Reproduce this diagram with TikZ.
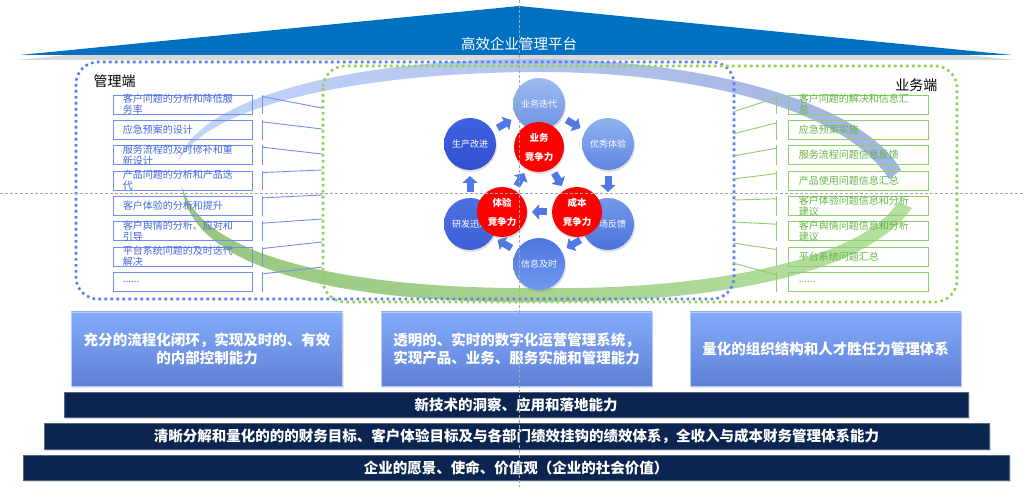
\documentclass[tikz,border=0pt]{standalone}
\usepackage{fontspec}
\setmainfont{Noto Sans CJK SC}
\usetikzlibrary{positioning, arrows.meta, shadows, calc}
\definecolor{roofblue}{HTML}{0070C0}
\definecolor{mgmtblue}{HTML}{5B7CF5}
\definecolor{bizgreen}{HTML}{92D050}
\definecolor{itemblue}{HTML}{7090F0}
\definecolor{itemtxtblue}{HTML}{4468DA}
\definecolor{itemgreen}{HTML}{8CD06A}
\definecolor{itemtxtgreen}{HTML}{62B545}
\definecolor{swooshblueA}{HTML}{BCD0FA}
\definecolor{swooshblueB}{HTML}{97ABDB}
\definecolor{swooshgreenA}{HTML}{8DC070}
\definecolor{swooshgreenB}{HTML}{AEDC96}
\definecolor{paneltop}{HTML}{84ACFA}
\definecolor{panelbot}{HTML}{5E80D6}
\definecolor{navybar}{HTML}{0B2550}
\definecolor{corered}{HTML}{FF0000}
\definecolor{chevblue}{HTML}{5079E6}
\definecolor{guidegray}{HTML}{A6A6A6}
\definecolor{ywddtop}{HTML}{9EBCF2}
\definecolor{ywddbot}{HTML}{6A91E4}
\definecolor{yxtytop}{HTML}{8FB2F0}
\definecolor{yxtybot}{HTML}{5F86E0}
\definecolor{scfktop}{HTML}{7399EA}
\definecolor{scfkbot}{HTML}{4D73DC}
\definecolor{xxjstop}{HTML}{4E76E2}
\definecolor{xxjsbot}{HTML}{6F97EE}
\definecolor{yfxstop}{HTML}{4D70E2}
\definecolor{yfxsbot}{HTML}{3E60D8}
\definecolor{scgjtop}{HTML}{3F62E2}
\definecolor{scgjbot}{HTML}{3051D0}
\newcommand{\etcdots}{......}

\begin{document}
\begin{tikzpicture}[x=1bp, y=-1bp,
    lbox/.style={draw=itemblue, line width=0.9bp, minimum width=139bp, minimum height=19bp, inner sep=0},
    rbox/.style={draw=itemgreen, line width=0.9bp, minimum width=140bp, minimum height=19bp, inner sep=0},
    itemtxt/.style={anchor=west, inner sep=0, align=left, font=\fontsize{10bp}{11bp}\selectfont},
    bracketl/.style={draw=itemblue, line width=0.9bp},
    bracketr/.style={draw=itemgreen, line width=0.9bp},
    ring/.style={circle, minimum size=52bp, inner sep=0, text=white, font=\fontsize{9bp}{10bp}\selectfont,
        drop shadow={opacity=0.25, shadow xshift=1bp, shadow yshift=-2bp}},
    core/.style={circle, minimum size=50bp, inner sep=0, fill=corered, text=white, align=center,
        font=\fontsize{9.5bp}{19bp}\selectfont\bfseries, drop shadow={opacity=0.25, shadow xshift=1bp, shadow yshift=-2bp}},
    chevline/.style={draw=chevblue, line width=7bp, -{Triangle[width=15bp, length=7bp]}},
    panel/.style={top color=paneltop, bottom color=panelbot, draw=paneltop!60!white, minimum width=271bp, minimum height=74bp,
        text=white, align=center, font=\fontsize{14.5bp}{18bp}\selectfont\bfseries,
        drop shadow={opacity=0.2, shadow xshift=1bp, shadow yshift=-2bp}},
    navy/.style={fill=navybar, draw=navybar!70!white, minimum height=25bp, inner sep=0, text=white,
        font=\fontsize{14.5bp}{16bp}\selectfont\bfseries, drop shadow={opacity=0.3, shadow xshift=1.5bp, shadow yshift=-2bp}},
    dotbox/.style={rounded corners=22bp, line width=2.6bp, dash pattern=on 2.6bp off 3.4bp},
    guide/.style={draw=guidegray, line width=0.6bp, dash pattern=on 3bp off 2bp}
  ]
  \useasboundingbox (0,0) rectangle (1024,487);

  % roof
  \fill[black, opacity=0.15] (519,10) -- (1016,60) -- (16,60) -- cycle;
  \fill[roofblue] (519,6) -- (1012,55) -- (20,55) -- cycle;
  \node[text=white, font=\fontsize{14.5bp}{16bp}\selectfont] (roof) at (519,44) {高效企业管理平台};

  % swooshes
  \shade[left color=swooshblueA, right color=swooshblueB, fill opacity=0.9]
    (178,162) .. controls (200,90) and (380,58) .. (540,59)
    .. controls (700,60) and (860,100) .. (901,170) -- (889,179)
    .. controls (845,110) and (700,72) .. (540,72)
    .. controls (380,72) and (210,100) .. (178,162) -- cycle;
  \shade[left color=swooshgreenA, right color=swooshgreenB, fill opacity=0.9]
    (182,186) .. controls (190,275) and (360,304) .. (545,302)
    .. controls (700,302) and (860,280) .. (912,208) -- (898,202)
    .. controls (860,262) and (700,290) .. (545,288)
    .. controls (390,290) and (205,268) .. (182,186) -- cycle;

  % dotted frames
  \draw[dotbox, draw=mgmtblue] (76,62) rectangle (734,299);
  \draw[dotbox, draw=bizgreen] (323,66) rectangle (957,302);
  \node[anchor=west, font=\fontsize{14bp}{16bp}\selectfont] (mgmt) at (90,81) {管理端};
  \node[anchor=east, font=\fontsize{14bp}{16bp}\selectfont] (biz) at (941,85) {业务端};

  % left items
  \foreach \i/\ey/\txt in {1/108/{客户问题的分析和降低服\\务率}, 2/129/{应急预案的设计}, 3/154/{服务流程的及时修补和重\\新设计},
      4/170/{产品问题的分析和产品迭\\代}, 5/195/{客户体验的分析和提升}, 6/219/{客户舆情的分析、应对和\\引导},
      7/242/{平台系统问题的及时迭代\\解决}, 8/267/{\etcdots}} {
    \node[lbox] (l\i) at (182.5,{104.5+25.33*(\i-1)}) {};
    \node[itemtxt, text=itemtxtblue] (lt\i) at ([xshift=10bp]l\i.west) {\txt};
    \coordinate (le\i) at (322,\ey);
    \draw[bracketl] ([xshift=10bp]l\i.north east) -- ([xshift=10bp]l\i.south east);
    \draw[bracketl] ([xshift=10bp, yshift=-2bp]l\i.north east) -- (le\i);
  }

  % right items
  \foreach \i/\ey/\txt in {1/112/{客户问题的解决和信息汇\\总}, 2/134/{应急预案实施}, 3/156/{服务流程问题信息反馈},
      4/179/{产品使用问题信息汇总}, 5/200/{客户体验问题信息和分析\\建议}, 6/222/{客户舆情问题信息和分析\\建议},
      7/243/{平台系统问题汇总}, 8/263/{\etcdots}} {
    \node[rbox] (r\i) at (858,{104.5+25.33*(\i-1)}) {};
    \node[itemtxt, text=itemtxtgreen] (rt\i) at ([xshift=11bp]r\i.west) {\txt};
    \coordinate (re\i) at (733,\ey);
    \draw[bracketr] ([xshift=-11bp]r\i.north west) -- ([xshift=-11bp]r\i.south west);
    \draw[bracketr] ([xshift=-11bp, yshift=-3bp]r\i.north west) -- (re\i);
  }

  % cycle
  \node[ring, top color=ywddtop, bottom color=ywddbot] (ywdd) at (539,104) {业务迭代};
  \node[ring, top color=yxtytop, bottom color=yxtybot] (yxty) at (608,144) {优秀体验};
  \node[ring, top color=scfktop, bottom color=scfkbot] (scfk) at (608,224) {市场反馈};
  \node[ring, top color=xxjstop, bottom color=xxjsbot] (xxjs) at (539,264) {信息及时};
  \node[ring, top color=yfxstop, bottom color=yfxsbot] (yfxs) at (470,224) {研发迅速};
  \node[ring, top color=scgjtop, bottom color=scgjbot] (scgj) at (470,144) {生产改进};
  \node[core] (ywjz) at (539,147) {业务\\竞争力};
  \node[core] (tyjz) at (502,212) {体验\\竞争力};
  \node[core] (cbjz) at (577,212) {成本\\竞争力};
  \foreach \a/\b in {scgj/ywdd, ywdd/yxty, yxty/scfk, scfk/xxjs, xxjs/yfxs, yfxs/scgj, cbjz/tyjz, tyjz/ywjz, ywjz/cbjz}
    \draw[chevline] ($(\a)!0.4!(\b)$) -- ($(\a)!0.6!(\b)$);

  % capability panels
  \node[panel] (p1) at (207,349) {充分的流程化闭环，实现及时的、有效\\的内部控制能力};
  \node[panel, align=left] (p2) at (516.5,349) {透明的、实时的数字化运营管理系统，\\实现产品、业务、服务实施和管理能力};
  \node[panel] (p3) at (825.5,349) {量化的组织结构和人才胜任力管理体系};

  % foundation bars
  \node[navy, minimum width=904bp] (b1) at (516,404.5) {新技术的洞察、应用和落地能力};
  \node[navy, minimum width=945bp, minimum height=26bp] (b2) at (516.5,436) {清晰分解和量化的的的财务目标、客户体验目标及与各部门绩效挂钩的绩效体系，全收入与成本财务管理体系能力};
  \node[navy, minimum width=986bp] (b3) at (516,467.5) {企业的愿景、使命、价值观（企业的社会价值）};

  % guides
  \draw[guide] (519,0) -- (519,487);
  \draw[guide] (0,193) -- (1024,193);
\end{tikzpicture}
\end{document}
